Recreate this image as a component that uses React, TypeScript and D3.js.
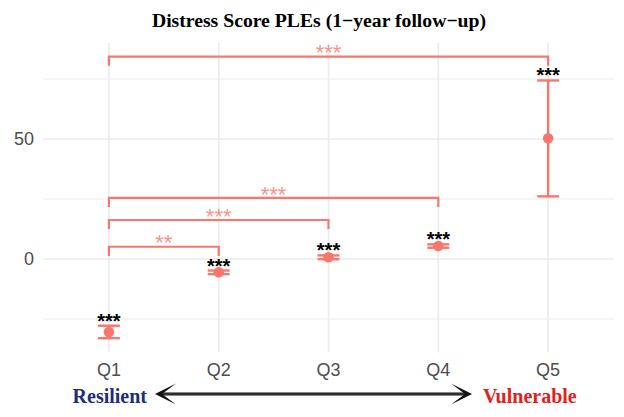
import React from "react";
import * as d3 from "d3";

// Group labels along the x axis
const categories = ["Q1", "Q2", "Q3", "Q4", "Q5"];
// Group means with lower / upper error limits
const means = [-30.4, -5.5, 0.7, 5.4, 50.3];
const lowers = [-33.0, -6.3, -0.1, 4.7, 26.1];
const uppers = [-27.8, -4.8, 1.5, 6.1, 74.4];
// Significance of each group mean
const groupSig = ["***", "***", "***", "***", "***"];

// Pairwise comparisons against Q1
const pairFrom = ["Q1", "Q1", "Q1", "Q1"];
const pairTo = ["Q2", "Q3", "Q4", "Q5"];
const pairY = [5.1, 16.25, 25.5, 84.3];
const pairSig = ["**", "***", "***", "***"];

// Axis breaks
const majorBreaks = [0, 50];
const minorBreaks = [-25, 25, 75];

const W = 624;
const H = 417;
const panel = { left: 43, right: 614, top: 43, bottom: 352 };
const RED = "#F8766D";
const GRID = "#EBEBEB";
const SANS = "'Liberation Sans', Arial, sans-serif";
const SERIF = "'Liberation Serif', 'Times New Roman', serif";

export default function App() {
  const x = d3
    .scalePoint<string>()
    .domain(categories)
    .range([panel.left, panel.right])
    .padding(0.6);
  const y = d3.scaleLinear().domain([-38.75, 90]).range([panel.bottom, panel.top]);
  const capHalf = x.step() * 0.1;
  const tip = 3.8;

  const ay = 394;
  const arrowL = 155;
  const arrowR = 472;
  const headLen = 21;
  const headHalf = 10.5;
  const notch = 6;

  // baseline so that the asterisk glyphs are centred at a given y
  const starBase = (cy: number, fs: number) => cy + 0.6 * fs;

  return (
    <svg
      width={W}
      height={H}
      viewBox={`0 0 ${W} ${H}`}
      style={{ position: "absolute", left: 0, top: 0, background: "#fff" }}
    >
      <rect width={W} height={H} fill="#fff" />
      {/* grid */}
      {minorBreaks.map((b) => (
        <line key={"mi" + b} x1={panel.left} x2={panel.right} y1={y(b)} y2={y(b)} stroke={GRID} strokeWidth={1.1} />
      ))}
      {majorBreaks.map((b) => (
        <line key={"ma" + b} x1={panel.left} x2={panel.right} y1={y(b)} y2={y(b)} stroke={GRID} strokeWidth={1.6} />
      ))}
      {categories.map((c) => (
        <line key={"v" + c} x1={x(c)} x2={x(c)} y1={panel.top} y2={panel.bottom} stroke={GRID} strokeWidth={1.6} />
      ))}

      {/* y axis labels */}
      {majorBreaks.map((b) => (
        <text key={"yt" + b} x={34} y={y(b)} dy="0.36em" textAnchor="end" fontFamily={SANS} fontSize={18} fill="#4D4D4D">
          {b}
        </text>
      ))}
      {/* x axis labels */}
      {categories.map((c) => (
        <text key={"xt" + c} x={x(c)} y={370} dy="0.36em" textAnchor="middle" fontFamily={SANS} fontSize={18} fill="#4D4D4D">
          {c}
        </text>
      ))}

      {/* pairwise brackets */}
      {pairTo.map((to, i) => {
        const x1 = x(pairFrom[i])!;
        const x2 = x(to)!;
        const yl = y(pairY[i]);
        const yt = y(pairY[i] - tip);
        return (
          <g key={"br" + i}>
            <path d={`M${x1},${yt}V${yl}H${x2}V${yt}`} fill="none" stroke={RED} strokeWidth={2.2} />
            <text
              x={(x1 + x2) / 2}
              y={starBase(yl - 9.5, 22)}
              textAnchor="middle"
              fontFamily={SANS}
              fontSize={22}
              fill={RED}
              fillOpacity={0.8}
            >
              {pairSig[i]}
            </text>
          </g>
        );
      })}

      {/* error bars and means */}
      {categories.map((c, i) => {
        const cx = x(c)!;
        return (
          <g key={"eb" + c}>
            <line x1={cx} x2={cx} y1={y(lowers[i])} y2={y(uppers[i])} stroke={RED} strokeWidth={2.4} />
            <line x1={cx - capHalf} x2={cx + capHalf} y1={y(lowers[i])} y2={y(lowers[i])} stroke={RED} strokeWidth={2.4} />
            <line x1={cx - capHalf} x2={cx + capHalf} y1={y(uppers[i])} y2={y(uppers[i])} stroke={RED} strokeWidth={2.4} />
            <circle cx={cx} cy={y(means[i])} r={5.3} fill={RED} />
            <text
              x={cx}
              y={starBase(y(uppers[i]) - 10, 20)}
              textAnchor="middle"
              fontFamily={SANS}
              fontWeight="bold"
              fontSize={20}
              fill="#000"
            >
              {groupSig[i]}
            </text>
          </g>
        );
      })}

      {/* title */}
      <text x={319} y={26.5} textAnchor="middle" fontFamily={SERIF} fontWeight="bold" fontSize={19.7} fill="#000">
        Distress Score PLEs (1−year follow−up)
      </text>

      {/* resilience to vulnerability arrow */}
      <line x1={arrowL + notch} x2={arrowR - notch} y1={ay} y2={ay} stroke="#111" strokeWidth={3.2} />
      <line x1={arrowL + notch} x2={arrowR - notch} y1={ay} y2={ay} stroke="#777" strokeWidth={0.6} />
      <path
        d={`M${arrowL},${ay}L${arrowL + headLen},${ay - headHalf}L${arrowL + notch + 1},${ay}L${arrowL + headLen},${ay + headHalf}Z`}
        fill="#111"
      />
      <path
        d={`M${arrowR},${ay}L${arrowR - headLen},${ay - headHalf}L${arrowR - notch - 1},${ay}L${arrowR - headLen},${ay + headHalf}Z`}
        fill="#111"
      />
      <text x={147} y={403} textAnchor="end" fontFamily={SERIF} fontWeight="bold" fontSize={20} fill="#1F2D7B">
        Resilient
      </text>
      <text x={483} y={403} textAnchor="start" fontFamily={SERIF} fontWeight="bold" fontSize={20} fill="#E3201B">
        Vulnerable
      </text>
    </svg>
  );
}
